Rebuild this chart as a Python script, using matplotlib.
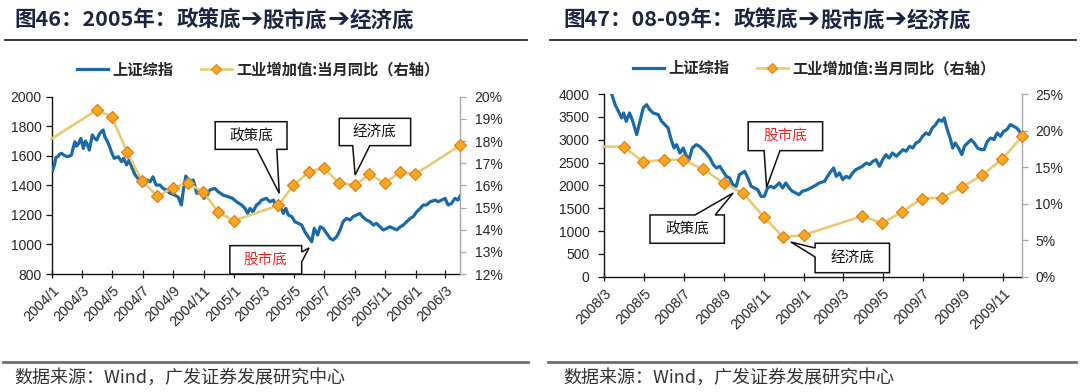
import matplotlib
matplotlib.use("Agg")
import matplotlib.pyplot as plt
import matplotlib.dates as mdates
from matplotlib.lines import Line2D
from matplotlib.patches import Polygon
from matplotlib.ticker import FuncFormatter, MultipleLocator
import pandas as pd

# ---------------- data ----------------
# Chart 46 (2004-2006)
l_idx_dates = ["2004-01-02","2004-01-06","2004-01-09","2004-01-13","2004-01-16","2004-01-20","2004-01-27",
    "2004-02-02","2004-02-09","2004-02-13","2004-02-16","2004-02-19","2004-02-23","2004-02-28","2004-03-04",
    "2004-03-08","2004-03-11","2004-03-16","2004-03-22","2004-03-26","2004-03-31","2004-04-06","2004-04-13",
    "2004-04-16","2004-04-21","2004-04-26","2004-04-30","2004-05-05","2004-05-13","2004-05-20","2004-05-24",
    "2004-05-30","2004-06-04","2004-06-09","2004-06-16","2004-06-22","2004-06-29","2004-07-06","2004-07-10",
    "2004-07-16","2004-07-22","2004-07-28","2004-08-05","2004-08-11","2004-08-18","2004-08-25","2004-09-04",
    "2004-09-11","2004-09-14","2004-09-17","2004-09-21","2004-09-26","2004-10-03","2004-10-11","2004-10-18",
    "2004-10-26","2004-11-01","2004-11-08","2004-11-13","2004-11-23","2004-11-30","2004-12-10","2004-12-20",
    "2004-12-29","2005-01-06","2005-01-16","2005-01-23","2005-01-28","2005-02-02","2005-02-08","2005-02-15",
    "2005-02-20","2005-02-25","2005-03-07","2005-03-14","2005-03-21","2005-03-25","2005-03-31","2005-04-05",
    "2005-04-10","2005-04-15","2005-04-20","2005-04-27","2005-05-03","2005-05-10","2005-05-17","2005-05-23",
    "2005-05-30","2005-06-06","2005-06-11","2005-06-18","2005-06-23","2005-06-29","2005-07-06","2005-07-13",
    "2005-07-19","2005-07-26","2005-08-02","2005-08-08","2005-08-15","2005-08-22","2005-08-28","2005-09-04",
    "2005-09-11","2005-09-16","2005-09-24","2005-10-01","2005-10-08","2005-10-14","2005-10-21","2005-10-28",
    "2005-11-04","2005-11-10","2005-11-17","2005-11-24","2005-12-01","2005-12-07","2005-12-14","2005-12-21",
    "2005-12-27","2006-01-03","2006-01-10","2006-01-16","2006-01-23","2006-01-30","2006-02-09","2006-02-15",
    "2006-02-22","2006-03-01","2006-03-07","2006-03-14","2006-03-21","2006-03-27","2006-03-31"]
l_idx_vals = [1500,1540,1590,1594,1610,1617,1600,
    1594,1605,1660,1695,1665,1680,1718,1650,
    1700,1685,1639,1741,1720,1707,1752,1775,
    1729,1700,1661,1620,1583,1594,1560,1583,
    1538,1571,1526,1470,1447,1414,1402,1436,
    1424,1458,1402,1402,1380,1368,1346,1334,
    1319,1290,1267,1368,1463,1424,1436,1346,
    1357,1312,1334,1368,1380,1357,1334,1323,
    1312,1289,1267,1244,1210,1244,1221,1267,
    1278,1300,1312,1289,1300,1267,1233,1255,
    1210,1244,1199,1188,1154,1143,1131,1086,
    1052,1018,1109,1064,1120,1109,1075,1041,
    1030,1052,1098,1154,1177,1165,1188,1199,
    1210,1188,1165,1154,1131,1143,1120,1098,
    1109,1120,1109,1098,1120,1131,1154,1177,
    1188,1221,1244,1267,1267,1289,1300,1289,
    1300,1312,1267,1278,1312,1300,1327]
l_iva_dates = ["2003-12-31","2004-03-31","2004-04-30","2004-05-31","2004-06-30","2004-07-31","2004-08-31",
    "2004-09-30","2004-10-31","2004-11-30","2004-12-31","2005-03-31","2005-04-30","2005-05-31","2005-06-30",
    "2005-07-31","2005-08-31","2005-09-30","2005-10-31","2005-11-30","2005-12-31","2006-03-31"]
l_iva_vals = [18.1,19.4,19.1,17.5,16.2,15.5,15.9,16.1,15.7,14.8,14.4,15.1,16.0,16.6,16.8,16.1,16.0,16.5,16.1,16.6,16.5,17.8]

# Chart 47 (2008-2009)
r_idx_dates = ["2008-03-13","2008-03-18","2008-03-23","2008-03-28","2008-03-31","2008-04-04","2008-04-09",
    "2008-04-14","2008-04-20","2008-04-25","2008-04-30","2008-05-05","2008-05-10","2008-05-15","2008-05-23",
    "2008-05-28","2008-06-02","2008-06-07","2008-06-11","2008-06-16","2008-06-20","2008-06-25","2008-06-30",
    "2008-07-04","2008-07-09","2008-07-14","2008-07-20","2008-07-25","2008-07-30","2008-08-04","2008-08-10",
    "2008-08-15","2008-08-20","2008-08-25","2008-08-30","2008-09-04","2008-09-09","2008-09-14","2008-09-19",
    "2008-09-24","2008-10-02","2008-10-07","2008-10-12","2008-10-17","2008-10-22","2008-10-27","2008-11-01",
    "2008-11-06","2008-11-11","2008-11-16","2008-11-24","2008-11-29","2008-12-04","2008-12-09","2008-12-14",
    "2008-12-19","2008-12-24","2008-12-29","2009-01-06","2009-01-11","2009-01-16","2009-01-24","2009-02-01",
    "2009-02-09","2009-02-15","2009-02-19","2009-02-24","2009-03-01","2009-03-06","2009-03-11","2009-03-16",
    "2009-03-21","2009-03-26","2009-03-31","2009-04-06","2009-04-11","2009-04-16","2009-04-21","2009-04-26",
    "2009-05-01","2009-05-06","2009-05-11","2009-05-16","2009-05-22","2009-05-27","2009-06-01","2009-06-06",
    "2009-06-11","2009-06-16","2009-06-21","2009-06-26","2009-07-01","2009-07-06","2009-07-11","2009-07-16",
    "2009-07-21","2009-07-26","2009-07-31","2009-08-03","2009-08-07","2009-08-12","2009-08-16","2009-08-20",
    "2009-08-25","2009-08-30","2009-09-03","2009-09-08","2009-09-13","2009-09-18","2009-09-23","2009-09-28",
    "2009-10-03","2009-10-08","2009-10-13","2009-10-18","2009-10-23","2009-10-28","2009-11-02","2009-11-07",
    "2009-11-12","2009-11-17","2009-11-22","2009-11-26"]
r_idx_vals = [3990,3767,3622,3476,3585,3403,3585,
    3403,3110,3403,3694,3767,3657,3585,3548,
    3403,3329,3256,3037,2818,2891,2709,2818,
    2672,2562,2818,2891,2855,2782,2709,2599,
    2453,2380,2417,2307,2198,2161,2015,1979,
    2234,2307,2161,1979,1942,1905,1760,1760,
    1942,1979,1942,2052,1942,2052,1942,1869,
    1833,1796,1869,1905,1942,1979,2052,2088,
    2271,2380,2198,2271,2124,2198,2161,2271,
    2344,2380,2417,2490,2453,2526,2562,2417,
    2562,2672,2599,2709,2636,2709,2782,2746,
    2855,2818,2928,2965,3074,3147,3110,3256,
    3329,3438,3403,3476,3256,3037,2818,2928,
    2818,2672,2855,2928,3001,2928,2818,2782,
    2782,2965,3037,3001,3147,3074,3184,3220,
    3329,3293,3256,3184]
r_iva_dates = ["2008-02-29","2008-03-31","2008-04-30","2008-05-31","2008-06-30","2008-07-31","2008-08-31",
    "2008-09-30","2008-10-31","2008-11-30","2008-12-31","2009-03-31","2009-04-30","2009-05-31","2009-06-30",
    "2009-07-31","2009-08-31","2009-09-30","2009-10-31","2009-11-30"]
r_iva_vals = [17.8,17.8,15.7,16.0,16.0,14.7,12.8,11.4,8.2,5.4,5.7,8.3,7.3,8.9,10.7,10.8,12.3,13.9,16.1,19.2]

title_prefixes = ["图46：2005年：", "图47：08-09年："]
title_steps = ["政策底", "股市底", "经济底"]
legend_labels = ["上证综指", "工业增加值:当月同比（右轴）"]
source_text = "数据来源：Wind，广发证券发展研究中心"

# ---------------- style ----------------
plt.rcParams["font.family"] = ["Liberation Sans", "Noto Sans CJK SC", "DejaVu Sans"]
CJK = ["Noto Sans CJK SC", "DejaVu Sans"]
BLUE = "#1B6AA5"
GOLD = "#E6CB74"
MFACE = "#F9A823"
MEDGE = "#E0801C"
TXT = "#262626"
NAVY = "#1B2740"

W, H = 1080, 392
fig = plt.figure(figsize=(W / 100, H / 100), dpi=100)
fig.patch.set_facecolor("white")
renderer = fig.canvas.get_renderer()


def date_fmt(v, pos):
    d = mdates.num2date(v)
    return f"{d.year}/{d.month}"


def seq_text(x_px, y_px, pieces, **kw):
    """Draw consecutive text pieces, each with its own font family and size."""
    x = x_px
    for s, fam, size in pieces:
        t = fig.text(x / W, 1 - y_px / H, s, ha="left", va="center", family=fam, fontsize=size, **kw)
        bb = t.get_window_extent(renderer=renderer)
        x = bb.x1


def callout(ax, box, edge, b1, b2, apex, text, color):
    x0, y0, x1, y1 = box
    if edge == "bottom":
        verts = [(x0, y0), (b1, y0), apex, (b2, y0), (x1, y0), (x1, y1), (x0, y1)]
    elif edge == "top":
        verts = [(x0, y0), (x1, y0), (x1, y1), (b2, y1), apex, (b1, y1), (x0, y1)]
    elif edge == "right":
        verts = [(x0, y0), (x1, y0), (x1, b1), apex, (x1, b2), (x1, y1), (x0, y1)]
    else:
        verts = [(x0, y0), (x1, y0), (x1, y1), (x0, y1), (x0, b2), apex, (x0, b1)]
    poly = Polygon(verts, closed=True, transform=ax.transAxes, facecolor="white",
                   edgecolor="#111111", lw=1.1, zorder=20, clip_on=False)
    ax.add_patch(poly)
    ax.text((x0 + x1) / 2, (y0 + y1) / 2, text, transform=ax.transAxes, ha="center", va="center",
            fontsize=10.5, family=CJK, color=color, zorder=21, fontweight="medium")


def make_chart(rect, idx_d, idx_v, iva_d, iva_v, ylim, y2lim, ystep, y2step, xlim, lpad, rpad,
               leg_anchor, prefix, title_x, title_line, foot_line, foot_x):
    ax = fig.add_axes(rect)
    ax2 = ax.twinx()
    ax.set_zorder(1)
    ax2.set_zorder(2)
    ax.patch.set_visible(False)
    ax2.patch.set_visible(False)

    ax.plot(pd.to_datetime(idx_d), idx_v, color=BLUE, lw=2.3, zorder=3)
    ax2.plot(pd.to_datetime(iva_d), iva_v, color=GOLD, lw=1.9, marker="D", markersize=6.3,
             markerfacecolor=MFACE, markeredgecolor=MEDGE, markeredgewidth=0.9,
             markevery=slice(1, None), clip_on=False, zorder=4)

    ax.set_xlim(pd.Timestamp(xlim[0]), pd.Timestamp(xlim[1]))
    ax.set_ylim(*ylim)
    ax2.set_ylim(*y2lim)
    ax.yaxis.set_major_locator(MultipleLocator(ystep))
    ax2.yaxis.set_major_locator(MultipleLocator(y2step))
    ax2.yaxis.set_major_formatter(FuncFormatter(lambda v, p: f"{v:.0f}%"))
    ax.xaxis.set_major_locator(mdates.MonthLocator(bymonth=[1, 3, 5, 7, 9, 11]))
    ax.xaxis.set_major_formatter(FuncFormatter(date_fmt))

    for s in ["top", "right"]:
        ax.spines[s].set_visible(False)
    for s in ["top", "left", "bottom"]:
        ax2.spines[s].set_visible(False)
    ax.spines["left"].set_color("#111111")
    ax.spines["bottom"].set_color("#111111")
    ax.spines["left"].set_linewidth(1.0)
    ax.spines["bottom"].set_linewidth(1.0)
    ax2.spines["right"].set_color("#A8A8A8")
    ax2.spines["right"].set_linewidth(1.0)

    ax.tick_params(axis="y", direction="out", length=4, width=0.9, colors="#111111",
                   labelsize=10, labelcolor=TXT, pad=lpad)
    ax.tick_params(axis="x", direction="inout", length=6, width=0.9, colors="#111111",
                   labelsize=10.3, labelcolor=TXT, pad=4)
    ax2.tick_params(axis="y", direction="out", length=4, width=0.9, colors="#A8A8A8",
                    labelsize=10, labelcolor=TXT, pad=rpad)
    for lab in ax.get_xticklabels():
        lab.set_rotation(45)
        lab.set_ha("right")
        lab.set_rotation_mode("anchor")

    handles = [Line2D([], [], color=BLUE, lw=2.3),
               Line2D([], [], color=GOLD, lw=1.9, marker="D", markersize=5.5,
                      markerfacecolor=MFACE, markeredgecolor=MEDGE, markeredgewidth=0.8)]
    ax2.legend(handles, legend_labels, loc="center", bbox_to_anchor=leg_anchor, ncol=2,
               frameon=False, handlelength=2.0, handletextpad=0.3, columnspacing=1.8,
               prop={"family": CJK, "size": 11, "weight": "bold"}, labelcolor=TXT)

    arrow = ("➔", ["DejaVu Sans"], 19)
    pieces = [(prefix, CJK, 15.5), (title_steps[0], CJK, 15.5), arrow, (title_steps[1], CJK, 15.5),
              arrow, (title_steps[2], CJK, 15.5)]
    seq_text(title_x, 20, pieces, fontweight="bold", color=NAVY)
    fig.add_artist(Line2D([title_line[0] / W, title_line[1] / W], [1 - 40 / H, 1 - 40 / H],
                          transform=fig.transFigure, color="#2A2A2A", lw=1.3))
    fig.add_artist(Line2D([foot_line[0] / W, foot_line[1] / W], [1 - 362 / H, 1 - 362 / H],
                          transform=fig.transFigure, color="#6E6E6E", lw=2.0))
    fig.text(foot_x / W, 1 - 378 / H, source_text, ha="left", va="center", fontsize=13,
             family=CJK, color="#333333")
    return ax, ax2


# left chart: axes from x 52..460, y 96.7..274
axL, axL2 = make_chart([52 / W, (H - 274) / H, 408 / W, 177.3 / H],
                       l_idx_dates, l_idx_vals, l_iva_dates, l_iva_vals,
                       (800, 2000), (12, 20), 200, 1, ("2004-01-01", "2006-03-31"), 3.5, 6.5,
                       (0.506, 1.152), title_prefixes[0], 14, (5, 527), (3, 528), 14)
callout(axL2, (0.400, 0.703, 0.576, 0.859), "bottom", 0.502, 0.551, (0.557, 0.455), "政策底", "#111111")
callout(axL2, (0.704, 0.724, 0.879, 0.878), "bottom", 0.737, 0.779, (0.743, 0.558), "经济底", "#111111")
callout(axL2, (0.436, 0.0, 0.612, 0.160), "right", 0.068, 0.124, (0.630, 0.147), "股市底", "#E3262B")

# right chart: axes from x 604..1022, y 94..276.7
axR, axR2 = make_chart([604 / W, (H - 276.7) / H, 418 / W, 182.7 / H],
                       r_idx_dates, r_idx_vals, r_iva_dates, r_iva_vals,
                       (0, 4000), (0, 25), 500, 5, ("2008-03-01", "2009-11-30"), 6.5, 5.5,
                       (0.5036, 1.142), title_prefixes[1], 563, (550, 1076), (548, 1076), 563)
callout(axR2, (0.345, 0.690, 0.523, 0.848), "bottom", 0.383, 0.421, (0.389, 0.489), "股市底", "#E3262B")
callout(axR2, (0.110, 0.183, 0.288, 0.338), "top", 0.218, 0.266, (0.309, 0.458), "政策底", "#111111")
callout(axR2, (0.505, 0.022, 0.683, 0.183), "left", 0.108, 0.157, (0.447, 0.190), "经济底", "#111111")

fig.savefig("out.png", dpi=100, facecolor="white")
